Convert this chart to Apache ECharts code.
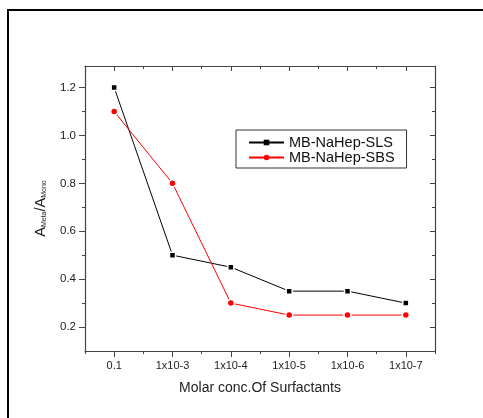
<!DOCTYPE html>
<html>
<head>
<meta charset="utf-8">
<script src="https://cdn.jsdelivr.net/npm/echarts@6/dist/echarts.min.js"></script>
<style>
  html, body { margin: 0; padding: 0; background: #fff; }
  #chart { width: 483px; height: 418px; }
</style>
</head>
<body>
<div id="chart"></div>
<script>
// concentrations along the bottom
var categories = ['0.1', '1x10-3', '1x10-4', '1x10-5', '1x10-6', '1x10-7'];
// A_Meta / A_Mono ratios
var slsValues = [1.2, 0.5, 0.45, 0.35, 0.35, 0.3];
var sbsValues = [1.1, 0.8, 0.3, 0.25, 0.25, 0.25];
// y ticks
var yMajorTicks = [0.2, 0.4, 0.6, 0.8, 1.0, 1.2];
var yMinorTicks = [0.3, 0.5, 0.7, 0.9, 1.1];

var font = 'Liberation Sans, Arial, sans-serif';
var axisColor = '#444';
var yMin = 0.1, yMax = 1.29;

function catAxis(pos, opts) {
  return {
    type: 'category',
    position: pos,
    data: categories,
    boundaryGap: true,
    axisLine: { show: opts.line, lineStyle: { color: axisColor, width: 1.2 } },
    axisTick: { show: true, alignWithLabel: opts.align, inside: opts.inside,
                length: opts.len, lineStyle: { color: axisColor } },
    axisLabel: { show: false },
    splitLine: { show: false }
  };
}

function valAxis(pos, ticks, opts) {
  return {
    type: 'value',
    position: pos,
    min: yMin,
    max: yMax,
    axisLine: { show: opts.line, lineStyle: { color: axisColor, width: 1.2 } },
    axisTick: { show: true, inside: opts.inside, length: opts.len,
                customValues: ticks, lineStyle: { color: axisColor } },
    axisLabel: { show: false },
    splitLine: { show: false }
  };
}

var bottomMain = catAxis('bottom', { line: true, align: true, inside: false, len: 6 });
bottomMain.axisLabel = { show: true, color: '#222', fontFamily: font, fontSize: 11, margin: 9 };
bottomMain.name = 'Molar conc.Of Surfactants';
bottomMain.nameLocation = 'middle';
bottomMain.nameGap = 30;
bottomMain.nameTextStyle = { color: '#222', fontFamily: font, fontSize: 14, verticalAlign: 'top' };

var leftMain = valAxis('left', yMajorTicks, { line: true, inside: false, len: 6 });
leftMain.axisLabel = { show: true, customValues: yMajorTicks, color: '#222', fontFamily: font,
  fontSize: 11.5, margin: 9, formatter: function (v) { return v.toFixed(1); } };
leftMain.name = 'A{sub|Meta}/A{sub|Mono}';
leftMain.nameLocation = 'middle';
leftMain.nameGap = 37;
leftMain.nameRotate = 90;
leftMain.nameTextStyle = { color: '#222', fontFamily: font, fontSize: 14.5,
  rich: { sub: { fontSize: 7, fontFamily: font, color: '#222', verticalAlign: 'bottom', padding: [8, 0, 0, 0] } } };

var option = {
  animation: false,
  backgroundColor: '#fff',
  grid: { left: 85, top: 66, width: 350, height: 285, containLabel: false },
  graphic: [{
    type: 'polyline',
    shape: { points: [[8, 418], [8, 10], [483, 10]] },
    style: { stroke: '#000', lineWidth: 2, fill: null }
  }],
  legend: {
    orient: 'vertical',
    left: 236,
    top: 130,
    padding: [5, 12, 3, 12],
    itemGap: 0,
    itemWidth: 35,
    itemHeight: 7,
    borderColor: '#333',
    borderWidth: 1,
    itemStyle: { borderWidth: 0 },
    textStyle: { fontFamily: font, fontSize: 14.5, color: '#111' },
    data: ['MB-NaHep-SLS', 'MB-NaHep-SBS']
  },
  xAxis: [
    bottomMain,
    catAxis('bottom', { line: false, align: false, inside: false, len: 3 }),
    catAxis('top', { line: true, align: true, inside: true, len: 5 }),
    catAxis('top', { line: false, align: false, inside: true, len: 3 })
  ],
  yAxis: [
    leftMain,
    valAxis('left', yMinorTicks, { line: false, inside: false, len: 3 }),
    valAxis('right', yMajorTicks, { line: true, inside: true, len: 5 }),
    valAxis('right', yMinorTicks, { line: false, inside: true, len: 3 })
  ],
  series: [
    {
      name: 'MB-NaHep-SLS',
      type: 'line',
      xAxisIndex: 0,
      yAxisIndex: 0,
      data: slsValues,
      symbol: 'rect',
      symbolSize: 6,
      color: '#000',
      lineStyle: { color: '#000', width: 1 },
      itemStyle: { color: '#000', borderColor: '#fff', borderWidth: 1.5 }
    },
    {
      name: 'MB-NaHep-SBS',
      type: 'line',
      xAxisIndex: 0,
      yAxisIndex: 0,
      data: sbsValues,
      symbol: 'circle',
      symbolSize: 7,
      color: '#ff0000',
      lineStyle: { color: '#ff0000', width: 1 },
      itemStyle: { color: '#ff0000', borderColor: '#fff', borderWidth: 1.5 }
    }
  ]
};

var chart = echarts.init(document.getElementById('chart'), null, { renderer: 'canvas' });
chart.setOption(option);
</script>
</body>
</html>
